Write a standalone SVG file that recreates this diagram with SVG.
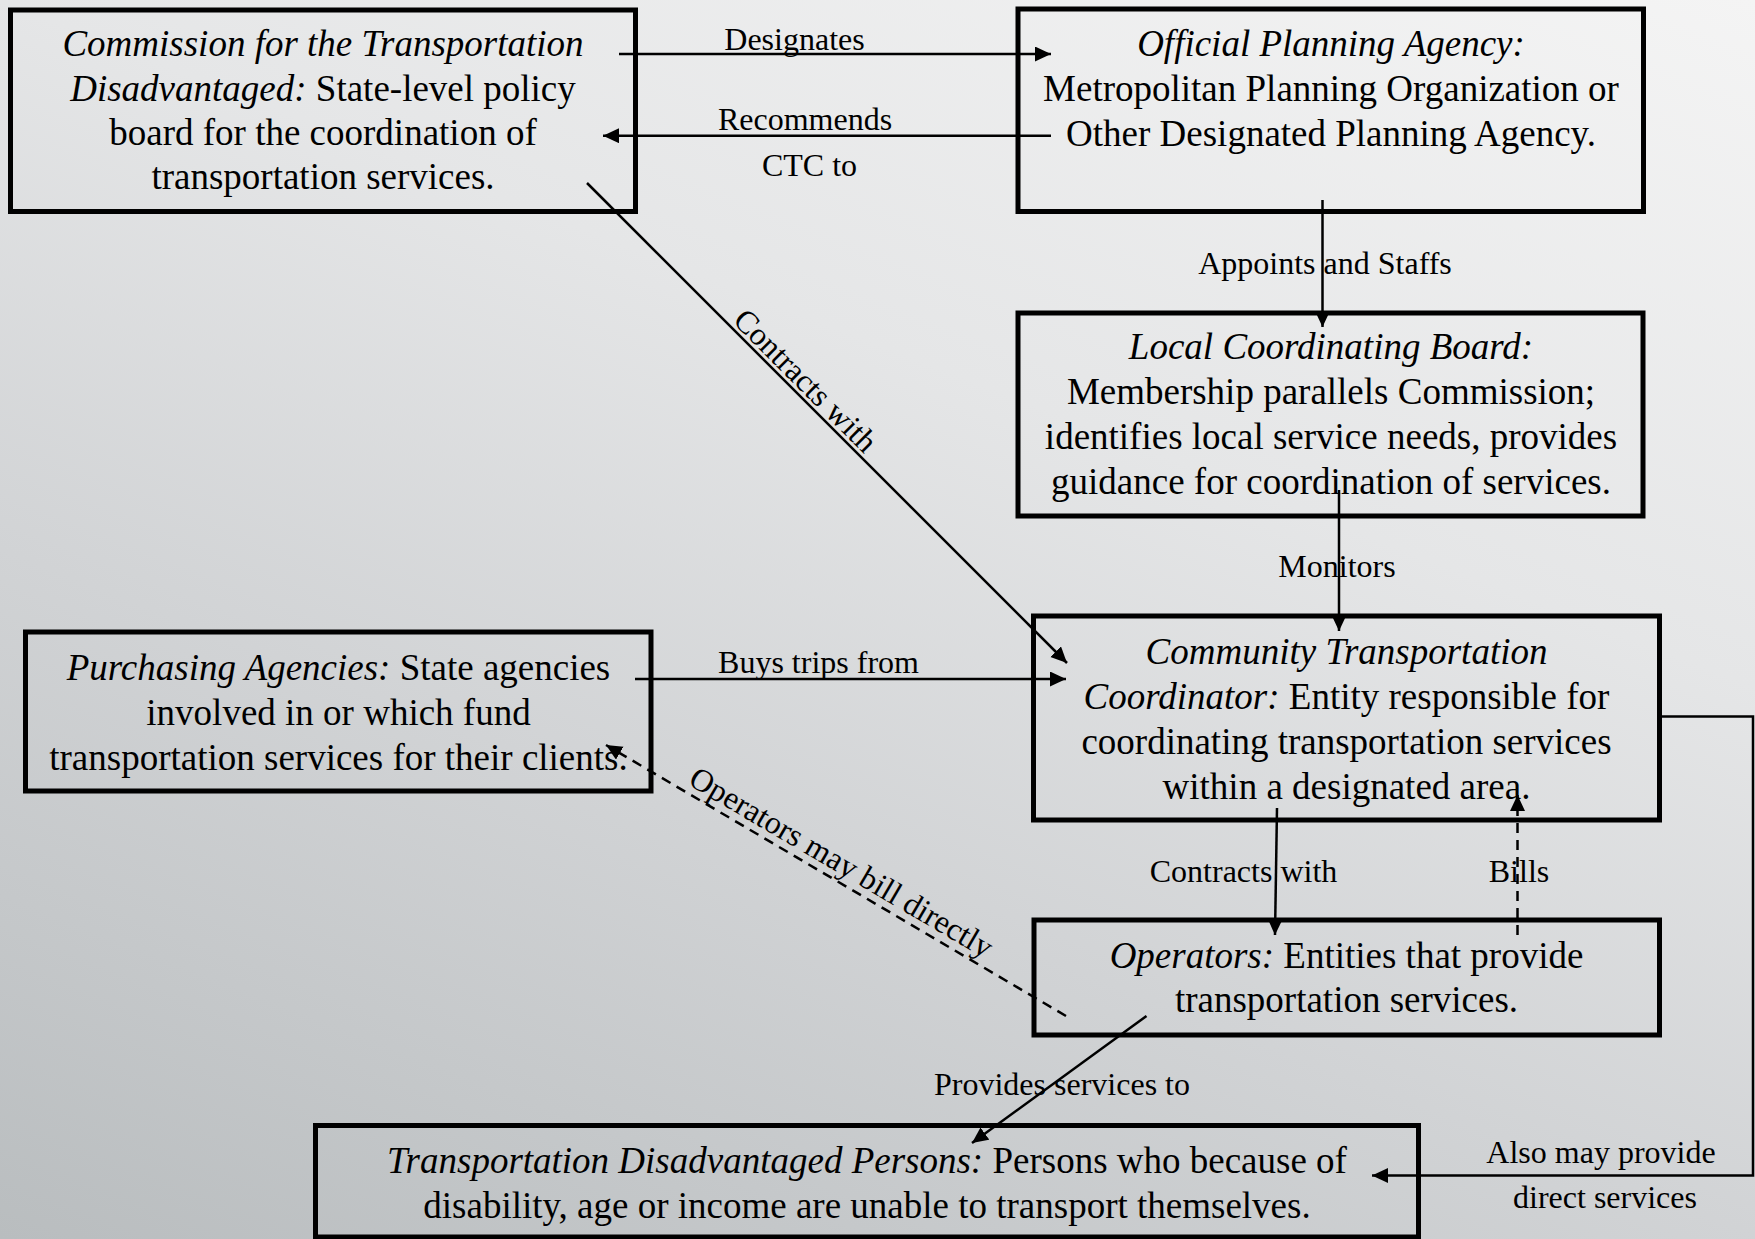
<svg xmlns="http://www.w3.org/2000/svg" width="1755" height="1239" viewBox="0 0 1755 1239">
<defs>
<linearGradient id="bg" gradientUnits="userSpaceOnUse" x1="1755" y1="0" x2="1103" y2="1668">
<stop offset="0" stop-color="#f4f4f4"/>
<stop offset="0.357" stop-color="#e5e6e7"/>
<stop offset="0.642" stop-color="#d1d3d5"/>
<stop offset="1" stop-color="#b9bdbf"/>
</linearGradient>
<marker id="arr" markerUnits="userSpaceOnUse" markerWidth="17" markerHeight="16" refX="16" refY="7.5" orient="auto" viewBox="0 0 17 16">
<path d="M0,0 L16,7.5 L0,15 Z" fill="#000"/>
</marker>
</defs>
<style>
.box{fill:none;stroke:#000;stroke-width:5}
.t{font-family:"Liberation Serif","Times New Roman",serif;font-size:37px;fill:#000;text-anchor:middle}
.l{font-family:"Liberation Serif","Times New Roman",serif;font-size:32px;fill:#000;text-anchor:middle}
.i{font-style:italic}
.c{fill:none;stroke:#000;stroke-width:2.5}
.a{marker-end:url(#arr)}
.d{stroke-dasharray:10 7}
</style>
<rect width="1755" height="1239" fill="url(#bg)"/>

<g id="commission">
<rect class="box" x="10.5" y="10" width="625" height="201.5"/>
<text class="t" x="323" y="55.5"><tspan class="i">Commission for the Transportation</tspan></text>
<text class="t" x="323" y="100.5"><tspan class="i">Disadvantaged:</tspan> State-level policy</text>
<text class="t" x="323" y="145">board for the coordination of</text>
<text class="t" x="323" y="189">transportation services.</text>
</g>

<g id="official-planning-agency">
<rect class="box" x="1018" y="9" width="625.5" height="202.5"/>
<text class="t" x="1331" y="56"><tspan class="i">Official Planning Agency:</tspan></text>
<text class="t" x="1331" y="101">Metropolitan Planning Organization or</text>
<text class="t" x="1331" y="145.5">Other Designated Planning Agency.</text>
</g>

<g id="local-coordinating-board">
<rect class="box" x="1018" y="313" width="625" height="203"/>
<text class="t" x="1331" y="359"><tspan class="i">Local Coordinating Board:</tspan></text>
<text class="t" x="1331" y="404">Membership parallels Commission;</text>
<text class="t" x="1331" y="449">identifies local service needs, provides</text>
<text class="t" x="1331" y="494">guidance for coordination of services.</text>
</g>

<g id="purchasing-agencies">
<rect class="box" x="25.5" y="632" width="625.5" height="159"/>
<text class="t" x="338.5" y="680"><tspan class="i">Purchasing Agencies:</tspan> State agencies</text>
<text class="t" x="338.5" y="724.5">involved in or which fund</text>
<text class="t" x="338.5" y="769.5">transportation services for their clients.</text>
</g>

<g id="ctc">
<rect class="box" x="1033.5" y="616" width="626" height="204"/>
<text class="t" x="1346.5" y="663.5"><tspan class="i">Community Transportation</tspan></text>
<text class="t" x="1346.5" y="708.5"><tspan class="i">Coordinator:</tspan> Entity responsible for</text>
<text class="t" x="1346.5" y="753.5">coordinating transportation services</text>
<text class="t" x="1346.5" y="798.5">within a designated area.</text>
</g>

<g id="operators">
<rect class="box" x="1034" y="920" width="625.5" height="115"/>
<text class="t" x="1346.5" y="967.5"><tspan class="i">Operators:</tspan> Entities that provide</text>
<text class="t" x="1346.5" y="1011.5">transportation services.</text>
</g>

<g id="td-persons">
<rect class="box" x="315.5" y="1125.5" width="1103" height="111.5"/>
<text class="t" x="867" y="1173"><tspan class="i">Transportation Disadvantaged Persons:</tspan> Persons who because of</text>
<text class="t" x="867" y="1218">disability, age or income are unable to transport themselves.</text>
</g>

<g id="connectors">
<line class="c a" x1="619" y1="54" x2="1051" y2="54"/>
<line class="c a" x1="1051" y1="135.7" x2="603" y2="135.7"/>
<line class="c a" x1="1322.5" y1="200" x2="1322.5" y2="327"/>
<line class="c a" x1="1339" y1="490" x2="1339" y2="631"/>
<line class="c a" x1="587" y1="183" x2="1067" y2="663"/>
<line class="c a" x1="635" y1="679" x2="1066" y2="679"/>
<line class="c a" x1="1277" y1="808" x2="1275" y2="935"/>
<line class="c a d" x1="1517.5" y1="935" x2="1517.5" y2="795"/>
<line class="c a d" x1="1066" y1="1016" x2="606" y2="745"/>
<line class="c a" x1="1146.5" y1="1016" x2="972" y2="1143"/>
<polyline class="c a" points="1660,716.5 1753,716.5 1753,1175.5 1372,1175.5"/>
</g>

<g id="connector-labels">
<text class="l" x="794.5" y="50">Designates</text>
<text class="l" x="805" y="129.5">Recommends</text>
<text class="l" x="809.5" y="175.5">CTC to</text>
<text class="l" x="1325" y="273.5">Appoints and Staffs</text>
<text class="l" x="1337" y="577">Monitors</text>
<text class="l" transform="translate(798,388) rotate(45)">Contracts with</text>
<text class="l" x="818.5" y="673">Buys trips from</text>
<text class="l" x="1243.5" y="882">Contracts with</text>
<text class="l" x="1519" y="882">Bills</text>
<text class="l" transform="translate(836,871.5) rotate(30.4)">Operators may bill directly</text>
<text class="l" x="1062" y="1095">Provides services to</text>
<text class="l" x="1601" y="1162.5">Also may provide</text>
<text class="l" x="1605" y="1208">direct services</text>
</g>
</svg>
